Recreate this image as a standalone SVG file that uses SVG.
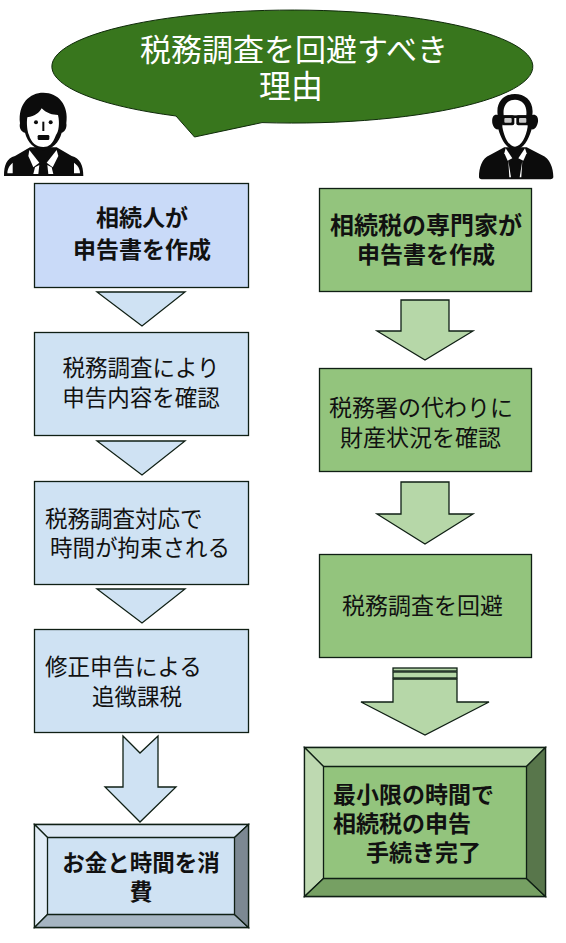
<svg xmlns="http://www.w3.org/2000/svg" width="566" height="943" viewBox="0 0 566 943">
<style>
text{font-family:"Liberation Sans","Noto Sans CJK JP",sans-serif;fill:#111}
.t{font-size:22.5px}
.u{font-size:23px}
.b{font-size:23px;font-weight:700}
.c{text-anchor:middle}
.s{stroke:#0f1f14;stroke-width:1.3;stroke-linejoin:miter}
.lb{fill:#cfe2f3}
.gr{fill:#93c47d}
.ga{fill:#b6d7a8}
.k{fill:#0c0c0c;stroke:none}
.w{fill:#fff;stroke:none}
</style>
<rect width="566" height="943" fill="#fff"/>
<g id="connectors">
<path class="s lb" d="M97 292H185L142 326Z"/>
<path class="s lb" d="M97 441H185L142 475Z"/>
<path class="s lb" d="M97 589H185L142 623Z"/>
<path class="s lb" d="M123 736L140 753L158 736V787H176L140 822L105 787H123Z"/>
<path class="s ga" d="M401 300H449V331H473L425 360L377 331H401Z"/>
<path class="s ga" d="M401 482H449V514H473L425 544L377 514H401Z"/>
<path class="s ga" d="M393 679H457V702H489L425 735L361 702H393Z"/>
<rect class="s ga" x="393" y="672" width="64" height="6"/>
<rect class="s ga" x="393" y="668" width="64" height="3"/>
</g>
<g id="bubble">
<path fill="#38761d" stroke="#0f2a0a" stroke-width="1" d="M176 116A240.500 56.500 0 1 1 262 122.600L194.500 137Z"/>
<text x="294" y="61" class="c" style="font-size:31px;fill:#fff">税務調査を回避すべき</text>
<text x="291" y="98" class="c" style="font-size:32px;fill:#fff">理由</text>
</g>
<g id="person-left" transform="translate(0 90) scale(.3333)">
<path class="k" d="M12 258C12 225 20 205 45 198L90 172H170L215 198C240 205 250 225 250 258Z"/>
<path class="k" d="M60 100C53 40 90 8 130 8C175 8 207 45 199 100C202 115 192 128 185 128C178 158 155 178 130 181C105 178 82 158 75 128C66 128 56 115 60 100Z"/>
<path class="w" d="M82 82C105 80 120 65 125 55C140 70 158 75 174 75C180 100 176 125 168 135C158 162 147 171 130 171C110 171 93 158 87 135C82 125 79 100 82 82Z"/>
<circle class="k" cx="108" cy="97" r="6"/><circle class="k" cx="152" cy="97" r="6"/>
<rect class="k" x="127" y="95" width="6" height="28"/>
<rect class="k" x="113" y="135" width="35" height="15" rx="4"/>
<path class="w" d="M88 180L118 218L100 232L85 198Z"/><path class="w" d="M170 180L140 218L158 232L175 198Z"/>
<path class="w" d="M105 232L118 225L115 252H100Z"/><path class="w" d="M155 232L142 225L145 252H160Z"/>
<path class="w" d="M22 250C22 235 30 225 38 218V250Z"/><path class="w" d="M240 250C240 235 232 225 222 218V250Z"/>
</g>
<g id="person-right" transform="translate(475 90) scale(.3333)">
<path class="k" d="M12 260C12 235 20 205 45 195L88 172H155L200 195C225 205 235 235 235 260C235 268 225 268 220 268H30C20 268 12 268 12 260Z"/>
<path class="k" d="M68 75C62 33 90 12 120 12C150 12 178 33 172 75C186 72 192 85 188 100C185 112 178 120 170 118C160 152 145 177 120 180C95 177 80 152 70 118C62 120 55 112 52 100C50 85 54 72 68 75Z"/>
<path class="w" d="M86 75C83 47 97 29 120 29C143 29 157 47 154 75L158 110C153 140 140 168 120 170C100 168 87 140 82 110Z"/>
<rect class="k" x="60" y="76" width="120" height="8"/>
<rect class="k" x="80" y="76" width="38" height="30" rx="6"/><rect class="k" x="124" y="76" width="38" height="30" rx="6"/>
<rect x="88" y="84" width="22" height="14" rx="3" fill="#c9c9c9"/><rect x="132" y="84" width="22" height="14" rx="3" fill="#c9c9c9"/>
<path class="w" d="M92 175L112 205L98 212L88 190Z"/><path class="w" d="M150 175L130 205L145 212L155 190Z"/>
<path class="w" d="M100 212L108 262H103Z"/><path class="w" d="M142 212L134 262H139Z"/>
</g>
<g id="l1"><rect class="s" fill="#c9daf8" x="34.500" y="183.500" width="214" height="104"/>
<text x="142" y="226" class="b c">相続人が</text><text x="142" y="258" class="b c">申告書を作成</text></g>
<g id="l2"><rect class="s lb" x="34.500" y="332.500" width="214" height="103"/>
<text x="141" y="376" class="t c">税務調査により</text><text x="141" y="406" class="t c">申告内容を確認</text></g>
<g id="l3"><rect class="s lb" x="34.500" y="481.500" width="214" height="103"/>
<text x="45" y="527" class="t">税務調査対応で</text><text x="50" y="556" class="t">時間が拘束される</text></g>
<g id="l4"><rect class="s lb" x="34.500" y="629.500" width="214" height="103"/>
<text x="45" y="675" class="t">修正申告による</text><text x="92" y="705" class="t">追徴課税</text></g>
<g id="l5"><rect class="s lb" x="34.500" y="824.500" width="214" height="103"/>
<path class="s" fill="#dce8f4" d="M34.500 824.500H248.500L234.500 837.500H47.500Z"/>
<path class="s" fill="#e2edf7" d="M34.500 824.500L47.500 837.500V914.500L34.500 927.500Z"/>
<path class="s" fill="#a6b5c2" d="M34.500 927.500L47.500 914.500H234.500L248.500 927.500Z"/>
<path class="s" fill="#7c8892" d="M248.500 824.500L234.500 837.500V914.500L248.500 927.500Z"/>
<text x="141" y="871" class="c" style="font-size:22.500px;font-weight:700">お金と時間を消</text><text x="141" y="900" class="b c">費</text></g>
<g id="r1"><rect class="s gr" x="319.500" y="188.500" width="212" height="103"/>
<text x="426" y="234" class="b c" style="font-size:24px">相続税の専門家が</text><text x="426" y="263" class="b c">申告書を作成</text></g>
<g id="r2"><rect class="s gr" x="319.500" y="368.500" width="212" height="103"/>
<text x="329" y="416" class="u">税務署の代わりに</text><text x="340" y="446" class="u">財産状況を確認</text></g>
<g id="r3"><rect class="s gr" x="319.500" y="554.500" width="212" height="103"/>
<text x="342" y="614" class="u">税務調査を回避</text></g>
<g id="r4"><rect class="s gr" x="304.500" y="747.500" width="241" height="149"/>
<path class="s" fill="#b6d7a8" d="M304.500 747.500H545.500L526.500 766.500H323.500Z"/>
<path class="s" fill="#bed9b1" d="M304.500 747.500L323.500 766.500V878.500L304.500 896.500Z"/>
<path class="s" fill="#76a063" d="M304.500 896.500L323.500 878.500H526.500L545.500 896.500Z"/>
<path class="s" fill="#58764b" d="M545.500 747.500L526.500 766.500V878.500L545.500 896.500Z"/>
<text x="333" y="803" class="b">最小限の時間で</text><text x="333" y="832" class="b">相続税の申告</text><text x="366" y="861" class="b">手続き完了</text></g>
</svg>
